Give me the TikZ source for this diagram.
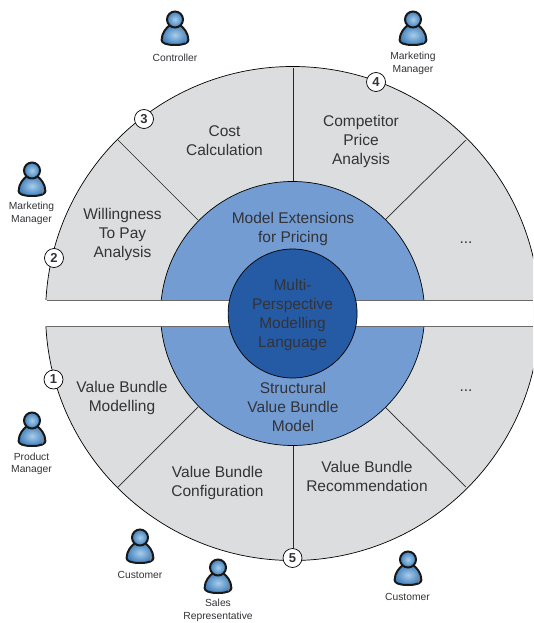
\documentclass[tikz,border=0pt]{standalone}
\usepackage{fontspec}
\setmainfont{Liberation Sans}
\definecolor{sectorgray}{HTML}{DCDDDF}
\definecolor{midblue}{HTML}{729CD2}
\definecolor{deepblue}{HTML}{255AA5}
\definecolor{inktext}{HTML}{333338}
\definecolor{edgegray}{HTML}{6A6A6A}
\definecolor{iconlight}{HTML}{A9CDEA}
\definecolor{icondark}{HTML}{3F7FBC}
\tikzset{
  x=1pt,y=-1pt,
  bigtext/.style={font=\fontsize{15.5}{19}\selectfont,text=inktext,align=center,inner sep=0pt},
  smalltext/.style={font=\fontsize{10.3}{12.5}\selectfont,text=inktext,align=center,inner sep=0pt},
  badge/.style={circle,draw=black,line width=.7pt,fill=white,minimum size=19pt,inner sep=0pt,font=\fontsize{13}{13}\selectfont\bfseries,text=inktext},
  ring/.style={draw=black,line width=.7pt},
  divider/.style={draw=black!85,line width=.7pt},
  stripedge/.style={draw=edgegray,line width=1pt},
  pics/person/.style={code={
    \path[draw=black!90,line width=2pt,line join=round,inner color=iconlight,outer color=icondark]
      (-5,-3) .. controls (-9,0) and (-13.2,5) .. (-13.4,12)
      .. controls (-13.4,15) and (-9,17) .. (0,17)
      .. controls (9,17) and (13.4,15) .. (13.4,12)
      .. controls (13.2,5) and (9,0) .. (5,-3) -- cycle;
    \path[draw=black!45,line width=.5pt] (5,0) .. controls (9,2) and (11,7) .. (10.5,15);
    \path[draw=black!90,line width=2pt,inner color=iconlight,outer color=icondark] (0,-8.5) circle (8pt);
  }}
}
\begin{document}
\begin{tikzpicture}
\useasboundingbox (0,0) rectangle (533,623);
\clip (0,0) rectangle (533,623);
\coordinate (c) at (292.6,313.5);
% outer disc
\path[ring,fill=sectorgray] (c) circle (247pt);
% dividers
\coordinate (tl1) at (118,140); \coordinate (tl2) at (198,220);
\coordinate (tr1) at (466,140); \coordinate (tr2) at (385,220);
\coordinate (bl1) at (118,487); \coordinate (bl2) at (198,407);
\coordinate (br1) at (466,487); \coordinate (br2) at (385,407);
\coordinate (vt1) at (293,68);  \coordinate (vt2) at (293,182);
\coordinate (vb1) at (293,445); \coordinate (vb2) at (293,559);
\foreach \a/\b in {tl1/tl2,tr1/tr2,bl1/bl2,br1/br2,vt1/vt2,vb1/vb2}
  \draw[divider] (\a) -- (\b);
% middle disc
\path[ring,fill=midblue] (c) circle (132pt);
% white strip
\fill[white] (0,300) rectangle (533,326);
\coordinate (sl1) at (46.5,300); \coordinate (sr1) at (533,300);
\coordinate (sl2) at (46.5,326); \coordinate (sr2) at (533,326);
\draw[stripedge] (sl1) -- (sr1);
\draw[stripedge] (sl2) -- (sr2);
% inner disc
\path[ring,fill=deepblue] (c) circle (64.5pt);
% main texts
\node[bigtext] (mpml) at (292.5,314.5) {Multi-\\Perspective\\Modelling\\Language};
\node[bigtext] (ext) at (293,228.5) {Model Extensions\\for Pricing};
\node[bigtext] (svb) at (293,407) {Structural\\Value Bundle\\Model};
\node[bigtext] (cost) at (224.5,140.5) {Cost\\Calculation};
\node[bigtext] (wtp) at (122.5,234.5) {Willingness\\To Pay\\Analysis};
\node[bigtext] (comp) at (361,141) {Competitor\\Price\\Analysis};
\node[bigtext] (dotsa) at (466,243) {...};
\node[bigtext] (vbm) at (122,397.5) {Value Bundle\\Modelling};
\node[bigtext] (vbc) at (217.5,482.5) {Value Bundle\\Configuration};
\node[bigtext] (vbr) at (367,476.5) {Value Bundle\\Recommendation};
\node[bigtext] (dotsb) at (466,391) {...};
% badges
\node[badge] (b1) at (53.5,379.5) {1};
\node[badge] (b2) at (54,258) {2};
\node[badge] (b3) at (144,119) {3};
\node[badge] (b4) at (376,82) {4};
\node[badge] (b5) at (292.5,558) {5};
% persons
\pic at (175,28) {person};
\pic at (413,28) {person};
\pic at (32,179) {person};
\pic at (32,429) {person};
\pic at (140,546) {person};
\pic at (218,576) {person};
\pic at (408,568) {person};
% person labels
\node[smalltext] (l1) at (175,57.5) {Controller};
\node[smalltext] (l2) at (413,63.5) {Marketing\\Manager};
\node[smalltext] (l3) at (31.5,213.5) {Marketing\\Manager};
\node[smalltext] (l4) at (31.5,464) {Product\\Manager};
\node[smalltext] (l5) at (140,574.5) {Customer};
\node[smalltext] (l6) at (218,610.5) {Sales\\Representative};
\node[smalltext] (l7) at (407.5,596.5) {Customer};
\end{tikzpicture}
\end{document}
